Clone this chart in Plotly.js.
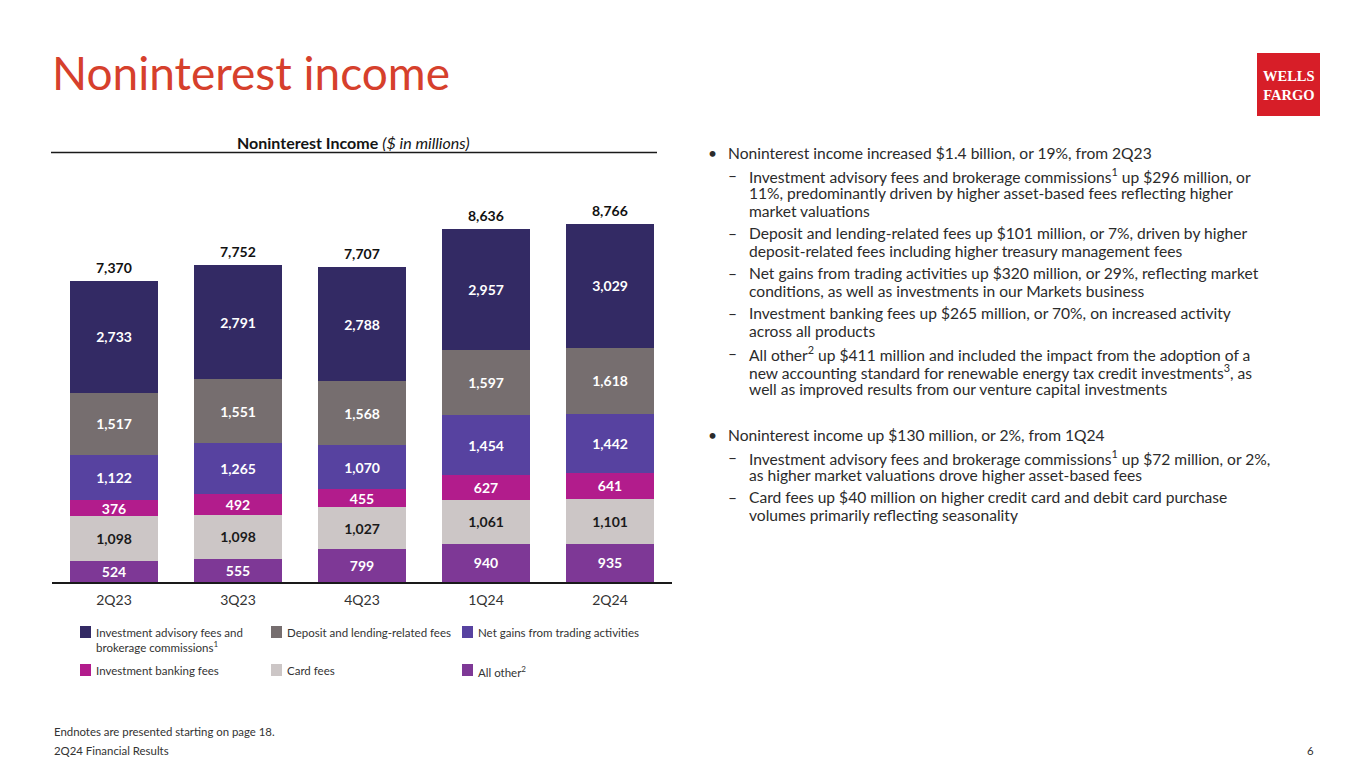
<!DOCTYPE html>
<html>
<head>
<meta charset="utf-8">
<script src="https://cdn.plot.ly/plotly-3.0.1.min.js"></script>
<style>
  html, body { margin: 0; padding: 0; background: #ffffff; }
  #chart { width: 1365px; height: 768px; }
</style>
</head>
<body>
<div id="chart"></div>
<script>
// ---------- data ----------
const quarters = ['2Q23', '3Q23', '4Q23', '1Q24', '2Q24'];
const allOther = [524, 555, 799, 940, 935];
const cardFees = [1098, 1098, 1027, 1061, 1101];
const investmentBanking = [376, 492, 455, 627, 641];
const tradingGains = [1122, 1265, 1070, 1454, 1442];
const depositLendingFees = [1517, 1551, 1568, 1597, 1618];
const investmentAdvisory = [2733, 2791, 2788, 2957, 3029];
const totals = [7370, 7752, 7707, 8636, 8766];

const seriesNames = [
  'All other<sup>2</sup>',
  'Card fees',
  'Investment banking fees',
  'Net gains from trading activities',
  'Deposit and lending-related fees',
  'Investment advisory fees and<br>brokerage commissions<sup>1</sup>'
];
const seriesValues = [allOther, cardFees, investmentBanking, tradingGains, depositLendingFees, investmentAdvisory];
const seriesColors = ['#7e3896', '#ccc6c6', '#b21c8c', '#5742a0', '#766e6f', '#332a64'];
const labelColors = ['#ffffff', '#1a1a1a', '#ffffff', '#ffffff', '#ffffff', '#ffffff'];

// legend grid order (row-major): top of stack first
const legendOrder = [5, 4, 3, 2, 1, 0];

// ---------- geometry helpers (pixel -> paper) ----------
const W = 1365, H = 768;
const M = { l: 52, r: W - 672, t: 190, b: H - 582 };
const plotW = W - M.l - M.r, plotH = H - M.t - M.b;
const px = x => (x - M.l) / plotW;
const py = y => (H - M.b - y) / plotH;

const FONT = 'Lato, "Open Sans", sans-serif';

// ---------- traces ----------
const traces = seriesValues.map((vals, i) => ({
  type: 'bar',
  name: seriesNames[i],
  x: quarters,
  y: vals,
  marker: { color: seriesColors[i], line: { width: 0 } },
  texttemplate: '%{y:,.0f}',
  textposition: 'inside',
  insidetextanchor: 'middle',
  textangle: 0,
  constraintext: 'none',
  textfont: { family: FONT, size: 14, color: labelColors[i], weight: 'bold' },
  hoverinfo: 'x+y+name',
  showlegend: false
}));

// ---------- annotations ----------
const annotations = [];

// totals above bars
quarters.forEach((q, i) => {
  annotations.push({
    x: q, y: totals[i], xref: 'x', yref: 'y',
    text: '<b>' + totals[i].toLocaleString('en-US') + '</b>',
    showarrow: false, yanchor: 'bottom', yshift: 3,
    font: { family: FONT, size: 14, color: '#111111' }
  });
});

// page title
annotations.push({
  x: px(50), y: py(73), xref: 'paper', yref: 'paper', xanchor: 'left', yanchor: 'middle',
  text: 'Noninterest income', showarrow: false,
  font: { family: FONT, size: 46, color: '#d6402c' }
});

// chart heading
annotations.push({
  x: px(353), y: py(142), xref: 'paper', yref: 'paper', xanchor: 'center', yanchor: 'middle',
  text: '<b>Noninterest Income</b> <i>($ in millions)</i>', showarrow: false,
  font: { family: FONT, size: 16, color: '#141414' }
});

// logo text
annotations.push({
  x: px(1288.5), y: py(85), xref: 'paper', yref: 'paper', xanchor: 'center', yanchor: 'middle',
  text: '<b>WELLS<br>FARGO</b>', showarrow: false, align: 'center',
  font: { family: '"Liberation Serif", "DejaVu Serif", serif', size: 14.5, color: '#ffffff' }
});

// manual legend
const legendCols = [80, 271, 462];
const legendRows = [632, 670];
const shapes = [];
legendOrder.forEach((si, k) => {
  const cx = legendCols[k % 3], cy = legendRows[Math.floor(k / 3)];
  shapes.push({
    type: 'rect', xref: 'paper', yref: 'paper',
    x0: px(cx), x1: px(cx + 11), y0: py(cy + 6), y1: py(cy - 6),
    fillcolor: seriesColors[si], line: { width: 0 }
  });
  annotations.push({
    x: px(cx + 14), y: py(cy - 8), xref: 'paper', yref: 'paper', xanchor: 'left', yanchor: 'top',
    text: seriesNames[si], showarrow: false, align: 'left',
    font: { family: FONT, size: 11.5, color: '#333333' }
  });
});

// commentary
const bodyLines = [
  ['b', 153, 'Noninterest income increased $1.4 billion, or 19%, from 2Q23'],
  ['d', 175, 'Investment advisory fees and brokerage commissions<sup>1</sup> up $296 million, or'],
  ['c', 193, '11%, predominantly driven by higher asset-based fees reflecting higher'],
  ['c', 211, 'market valuations'],
  ['d', 233, 'Deposit and lending-related fees up $101 million, or 7%, driven by higher'],
  ['c', 251, 'deposit-related fees including higher treasury management fees'],
  ['d', 273, 'Net gains from trading activities up $320 million, or 29%, reflecting market'],
  ['c', 291, 'conditions, as well as investments in our Markets business'],
  ['d', 313, 'Investment banking fees up $265 million, or 70%, on increased activity'],
  ['c', 331, 'across all products'],
  ['d', 353, 'All other<sup>2</sup> up $411 million and included the impact from the adoption of a'],
  ['c', 371, 'new accounting standard for renewable energy tax credit investments<sup>3</sup>, as'],
  ['c', 389, 'well as improved results from our venture capital investments'],
  ['b', 435, 'Noninterest income up $130 million, or 2%, from 1Q24'],
  ['d', 457, 'Investment advisory fees and brokerage commissions<sup>1</sup> up $72 million, or 2%,'],
  ['c', 475, 'as higher market valuations drove higher asset-based fees'],
  ['d', 497, 'Card fees up $40 million on higher credit card and debit card purchase'],
  ['c', 515, 'volumes primarily reflecting seasonality']
];
const bodyFont = { family: FONT, size: 15.6, color: '#2b2b2b' };
bodyLines.forEach(([kind, y, t]) => {
  const tx = kind === 'b' ? 726 : 747;
  if (kind === 'b') {
    annotations.push({ x: px(706), y: py(y), xref: 'paper', yref: 'paper', xanchor: 'left', yanchor: 'middle',
      text: '•', showarrow: false, font: bodyFont });
  }
  if (kind === 'd') {
    annotations.push({ x: px(726), y: py(y), xref: 'paper', yref: 'paper', xanchor: 'left', yanchor: 'middle',
      text: '–', showarrow: false, font: bodyFont });
  }
  annotations.push({ x: px(tx), y: py(y), xref: 'paper', yref: 'paper', xanchor: 'left', yanchor: 'middle',
    text: t, showarrow: false, align: 'left', font: bodyFont });
});

// footer
const footFont = { family: FONT, size: 11.4, color: '#333333' };
annotations.push({ x: px(52), y: py(731), xref: 'paper', yref: 'paper', xanchor: 'left', yanchor: 'middle',
  text: 'Endnotes are presented starting on page 18.', showarrow: false, font: footFont });
annotations.push({ x: px(52), y: py(750), xref: 'paper', yref: 'paper', xanchor: 'left', yanchor: 'middle',
  text: '2Q24 Financial Results', showarrow: false, font: footFont });
annotations.push({ x: px(1316), y: py(750), xref: 'paper', yref: 'paper', xanchor: 'right', yanchor: 'middle',
  text: '6', showarrow: false, font: footFont });

// heading rule and logo box
shapes.push({ type: 'line', xref: 'paper', yref: 'paper', x0: px(51), x1: px(657), y0: py(152.5), y1: py(152.5),
  line: { color: '#1a1a1a', width: 1.6 } });
shapes.push({ type: 'rect', xref: 'paper', yref: 'paper', x0: px(1257), x1: px(1320), y0: py(116), y1: py(53),
  fillcolor: '#d71e28', line: { width: 0 } });

const layout = {
  width: W, height: H,
  margin: M,
  paper_bgcolor: '#ffffff', plot_bgcolor: '#ffffff',
  barmode: 'stack',
  bargap: 0.29,
  showlegend: false,
  font: { family: FONT, color: '#333333' },
  xaxis: {
    type: 'category', range: [-0.5, 4.5], fixedrange: true,
    showline: true, linecolor: '#1a1a1a', linewidth: 1.6,
    ticks: '', showgrid: false, zeroline: false,
    tickfont: { family: FONT, size: 14, color: '#333333' },
    ticklabelstandoff: 5
  },
  yaxis: {
    range: [0, 9600], visible: false, showgrid: false, zeroline: false, fixedrange: true
  },
  annotations: annotations,
  shapes: shapes
};

Plotly.newPlot('chart', traces, layout, { displayModeBar: false, staticPlot: true });
</script>
</body>
</html>
